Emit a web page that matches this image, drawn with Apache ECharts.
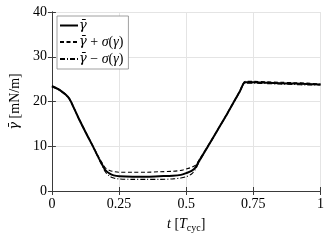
<!DOCTYPE html>
<html><head><meta charset="utf-8">
<script src="https://cdn.jsdelivr.net/npm/echarts@6/dist/echarts.min.js"></script>
<style>html,body{margin:0;padding:0;background:#fff}#c{width:327px;height:245px}</style>
</head><body><div id="c"></div>
<script>
const tMean = [0,0.025,0.05,0.065,0.08,0.10,0.125,0.15,0.175,0.19,0.20,0.215,0.23,0.25,0.30,0.35,0.40,0.45,0.48,0.50,0.52,0.535,0.55,0.60,0.65,0.70,0.72,0.75,0.80,0.85,0.90,0.95,1.0];
const gMean = [23.4,22.7,21.6,20.6,18.8,16.2,13.2,10.3,7.3,5.6,4.6,3.9,3.5,3.3,3.2,3.2,3.3,3.4,3.6,4.0,4.5,5.3,6.9,11.9,17.0,22.3,24.3,24.3,24.2,24.1,24.0,23.9,23.8];
const gPlus = [23.5,22.8,21.7,20.7,18.9,16.3,13.3,10.4,7.5,6.0,5.1,4.6,4.35,4.2,4.2,4.2,4.3,4.4,4.6,4.9,5.3,5.8,7.1,12.0,17.1,22.4,24.5,24.5,24.4,24.3,24.2,24.1,23.9];
const gMinus = [23.3,22.6,21.5,20.5,18.7,16.1,13.1,10.2,7.1,5.3,4.2,3.3,2.9,2.7,2.6,2.6,2.6,2.7,2.9,3.2,3.8,4.9,6.7,11.8,16.9,22.2,24.1,24.1,24.0,23.9,23.8,23.7,23.7];
const xTicks = [0,0.25,0.5,0.75,1];
const xTickLabels = ['0','0.25','0.5','0.75','1'];
const yTicks = [0,10,20,30,40];
const legendNames = ['γ̄','γ̄ + σ(γ)','γ̄ − σ(γ)'];
const legendRich = ['{g|γ̄}','{g|γ̄}{r| + }{i|σ}{r|(}{i|γ}{r|)}','{g|γ̄}{r| − }{i|σ}{r|(}{i|γ}{r|)}'];

const pair = (t, v) => t.map((x, i) => [x, v[i]]);
const serif = 'Liberation Serif';
const gfont = 'DejaVu Serif';
const axisCol = '#3a3a3a';

const chart = echarts.init(document.getElementById('c'), null, {renderer:'canvas'});
chart.setOption({
  animation:false,
  textStyle:{fontFamily:serif},
  grid:{left:50.7,right:5,top:12,bottom:54,containLabel:false},
  legend:{
    left:57, top:16, orient:'vertical', itemGap:3, itemWidth:18, itemHeight:12,
    padding:[3,5,3,2], borderColor:'#888', borderWidth:0.8, backgroundColor:'#fff',
    itemStyle:{color:'rgba(0,0,0,0)',borderWidth:0,opacity:0},
    formatter:name=>legendRich[legendNames.indexOf(name)],
    textStyle:{fontFamily:serif,fontSize:14,color:'#000',padding:[0,0,0,-4],
      rich:{g:{fontFamily:gfont,fontSize:13,fontStyle:'italic'},
            i:{fontFamily:serif,fontSize:14,fontStyle:'italic'},
            r:{fontFamily:serif,fontSize:14,whiteSpace:'pre'}}},
    data:legendNames
  },
  xAxis:[{
    type:'value', min:0, max:1, interval:0.25,
    axisLine:{show:true,lineStyle:{color:axisCol,width:1}},
    axisTick:{show:true,inside:true,length:4,lineStyle:{color:axisCol}},
    axisLabel:{color:'#000',fontSize:14,fontFamily:serif,margin:6,
      formatter:v=>{const i=xTicks.indexOf(v);return i>=0?xTickLabels[i]:'';}},
    splitLine:{show:true,lineStyle:{color:'#e4e4e4',width:1}},
    name:'{i|t} [{i|T}{s|cyc}]', nameLocation:'middle', nameGap:25,
    nameTextStyle:{color:'#000',fontSize:14,fontFamily:serif,
      rich:{i:{fontStyle:'italic',fontSize:14,fontFamily:serif},s:{fontSize:10,fontFamily:serif,verticalAlign:'bottom',padding:[7,0,0,0]}}}
  },{
    type:'value', position:'top', min:0, max:1, interval:0.25,
    axisLine:{show:true,lineStyle:{color:axisCol,width:1}},
    axisTick:{show:true,inside:true,length:4,lineStyle:{color:axisCol}},
    axisLabel:{show:false}, splitLine:{show:false}
  }],
  yAxis:[{
    type:'value', min:0, max:40, interval:10,
    axisLine:{show:true,lineStyle:{color:axisCol,width:1}},
    axisTick:{show:true,inside:true,length:4,lineStyle:{color:axisCol}},
    axisLabel:{color:'#000',fontSize:14,fontFamily:serif,margin:5},
    splitLine:{show:true,lineStyle:{color:'#e4e4e4',width:1}},
    name:'{g|γ̄}{r| [mN/m]}', nameLocation:'middle', nameGap:25, nameRotate:90,
    nameTextStyle:{color:'#000',fontSize:14,fontFamily:serif,
      rich:{g:{fontStyle:'italic',fontSize:13,fontFamily:gfont},r:{fontSize:14,fontFamily:serif}}}
  },{
    type:'value', position:'right', min:0, max:40, interval:10,
    axisLine:{show:true,lineStyle:{color:axisCol,width:1}},
    axisTick:{show:true,inside:true,length:4,lineStyle:{color:axisCol}},
    axisLabel:{show:false}, splitLine:{show:false}
  }],
  series:[
    {name:legendNames[0],type:'line',data:pair(tMean,gMean),showSymbol:false,symbol:'none',smooth:0.3,
      lineStyle:{color:'#000',width:2,type:'solid'},itemStyle:{color:'#000'},z:5},
    {name:legendNames[1],type:'line',data:pair(tMean,gPlus),showSymbol:false,symbol:'none',smooth:0.3,
      lineStyle:{color:'#000',width:1.1,type:[4,2.5]},itemStyle:{color:'#000'},z:4},
    {name:legendNames[2],type:'line',data:pair(tMean,gMinus),showSymbol:false,symbol:'none',smooth:0.3,
      lineStyle:{color:'#000',width:1.1,type:[5,2,1,2]},itemStyle:{color:'#000'},z:4}
  ]
});
</script></body></html>
